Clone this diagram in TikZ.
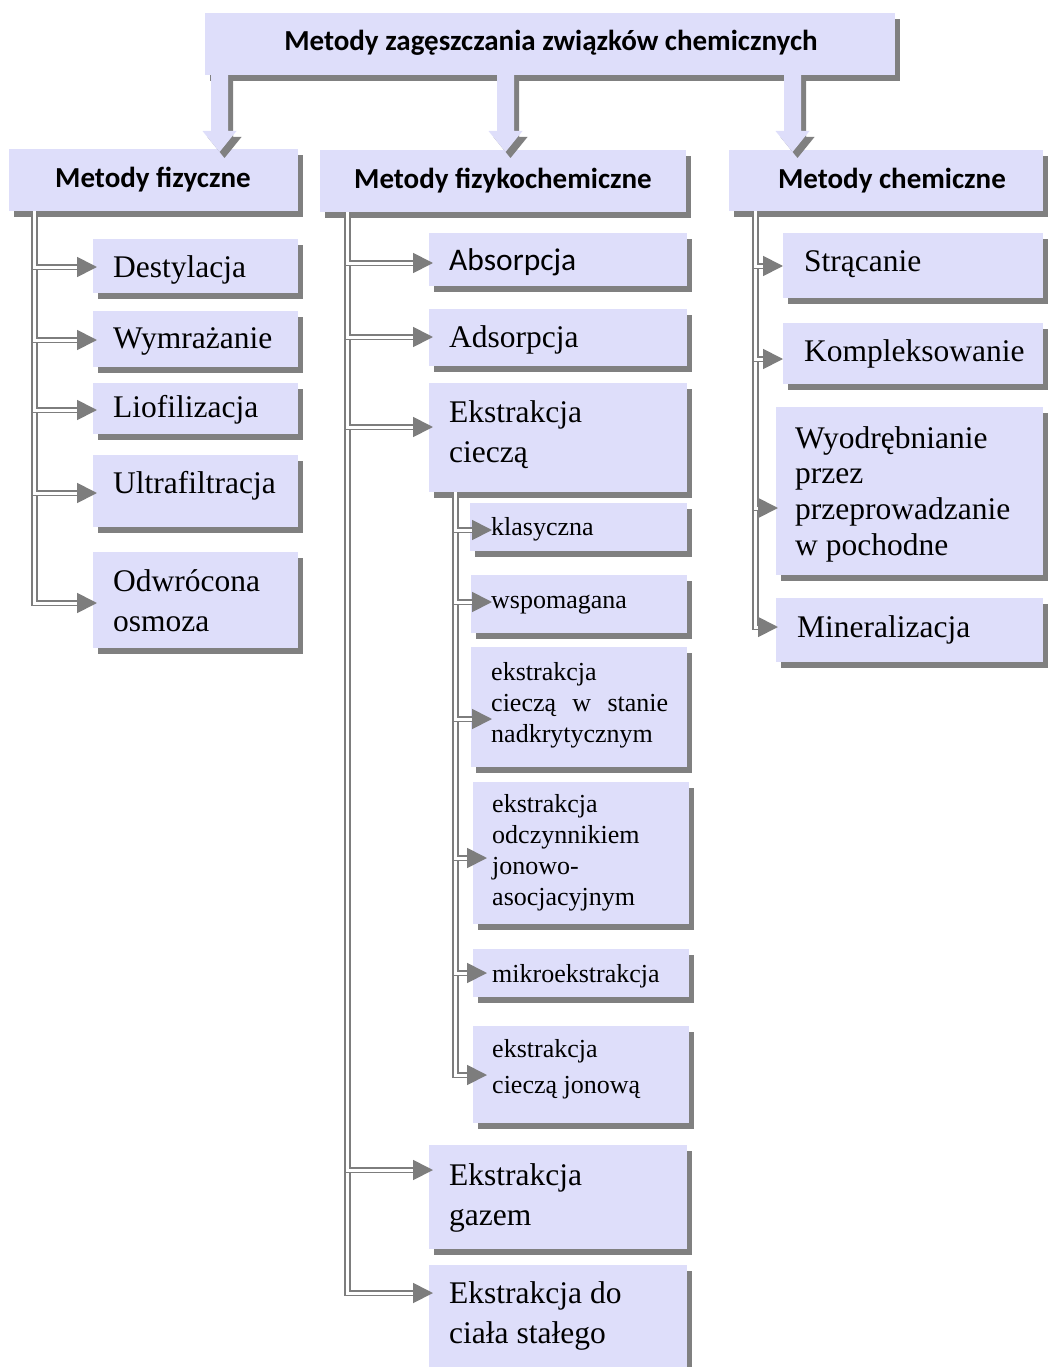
\documentclass[tikz,border=0pt]{standalone}
\usepackage{fontspec}
\setmainfont{Liberation Serif}
\newfontfamily\calibri{Carlito}
\usetikzlibrary{arrows.meta,shadows,calc,fit}
\definecolor{boxfill}{RGB}{222,222,250}
\definecolor{shgray}{RGB}{128,128,128}
\definecolor{lngray}{RGB}{125,125,125}
\newcommand\fbig{\fontsize{31.5}{40}\selectfont}
\newcommand\fsub{\fontsize{26}{31}\selectfont}
\newcommand\fhd{\calibri\bfseries\fontsize{29}{35}\selectfont}
\newcommand\fsans{\calibri\fontsize{31.5}{40}\selectfont}
\newcommand\mlines[1]{\vtop{\halign{##\hfil\cr#1\crcr}}}
\begin{document}
\begin{tikzpicture}[x=1pt,y=-1pt,
  boxnode/.style={fill=boxfill, draw=none, inner sep=0pt,
    drop shadow={shadow xshift=5pt, shadow yshift=-6pt, fill=shgray, opacity=1}},
  lbl/.style={inner sep=0pt, anchor=base west, text=black},
  hdlbl/.style={inner sep=0pt, anchor=base, font=\fhd},
  conn/.style={draw=lngray, line width=1.8pt, double=white, double distance=3pt,
    -{Triangle[length=20pt,width=20pt]}}]
\path[use as bounding box] (0,0) rectangle (1047,1367);

% top and headers
\node[boxnode, fit={(205,13) (895,75)}] (top) {};
\node[hdlbl] (top-t) at (551,51) {Metody zagęszczania związków chemicznych};
\node[boxnode, fit={(9,149) (298,211)}] (hfiz) {};
\node[hdlbl] (hfiz-t) at (153,188) {Metody fizyczne};
\node[boxnode, fit={(320,150) (686,212)}] (hfc) {};
\node[hdlbl] (hfc-t) at (503,189) {Metody fizykochemiczne};
\node[boxnode, fit={(729,150) (1043,211)}] (hch) {};
\node[hdlbl] (hch-t) at (892,189) {Metody chemiczne};

% block arrows
\coordinate (a1) at (219.5,75);
\coordinate (a2) at (505.5,75);
\coordinate (a3) at (792.5,75);
\foreach \c in {a1,a2,a3}{
  \fill[shgray] ($(\c)+(5,6)$) +(-8.5,0) -- +(8.5,0) -- +(8.5,56) -- +(17,56) -- +(0,77) -- +(-17,56) -- +(-8.5,56) -- cycle;
  \fill[boxfill] (\c) +(-8.5,0) -- +(8.5,0) -- +(8.5,56) -- +(17,56) -- +(0,77) -- +(-17,56) -- +(-8.5,56) -- cycle;
}

% left column
\node[boxnode, fit={(93,239) (298,293)}] (dest) {};
\node[lbl, font=\fbig] (dest-t) at (113,277) {Destylacja};
\coordinate (dest-a) at (97,267);
\node[boxnode, fit={(93,311) (298,367)}] (wymr) {};
\node[lbl, font=\fbig] (wymr-t) at (113,348) {Wymrażanie};
\coordinate (wymr-a) at (97,340);
\node[boxnode, fit={(93,383) (298,434)}] (liof) {};
\node[lbl, font=\fbig] (liof-t) at (113,417) {Liofilizacja};
\coordinate (liof-a) at (97,410);
\node[boxnode, fit={(93,455) (298,527)}] (ultra) {};
\node[lbl, font=\fbig] (ultra-t) at (113,493) {Ultrafiltracja};
\coordinate (ultra-a) at (97,493);
\node[boxnode, fit={(93,552) (298,648)}] (odwr) {};
\node[lbl, font=\fbig] (odwr-t) at (113,591) {\mlines{Odwrócona\cr osmoza}};
\coordinate (odwr-a) at (97,603);

% middle column
\node[boxnode, fit={(429,233) (687,286)}] (abs) {};
\node[lbl, font=\fsans] (abs-t) at (449,270) {Absorpcja};
\coordinate (abs-a) at (433,263);
\node[boxnode, fit={(429,309) (687,366)}] (ads) {};
\node[lbl, font=\fbig] (ads-t) at (449,347) {Adsorpcja};
\coordinate (ads-a) at (433,337);
\node[boxnode, fit={(429,383) (687,492)}] (ekc) {};
\node[lbl, font=\fbig] (ekc-t) at (449,422) {\mlines{Ekstrakcja\cr cieczą}};
\coordinate (ekc-a) at (433,427);

\node[boxnode, fit={(470,503) (687,551)}] (klas) {};
\node[lbl, font=\fsub] (klas-t) at (491,535) {klasyczna};
\coordinate (klas-a) at (492,530);
\node[boxnode, fit={(471,575) (687,633)}] (wsp) {};
\node[lbl, font=\fsub] (wsp-t) at (491,608) {wspomagana};
\coordinate (wsp-a) at (492,602);
\node[boxnode, fit={(471,647) (687,767)}] (nadk) {};
\node[lbl, font=\fsub] (nadk-t) at (491,680) {\mlines{ekstrakcja\cr \makebox[177pt][s]{cieczą w stanie}\cr nadkrytycznym}};
\coordinate (nadk-a) at (492,719);
\node[boxnode, fit={(473,782) (689,924)}] (odcz) {};
\node[lbl, font=\fsub] (odcz-t) at (492,812) {\mlines{ekstrakcja\cr odczynnikiem\cr jonowo-\cr asocjacyjnym}};
\coordinate (odcz-a) at (487,858);
\node[boxnode, fit={(473,949) (689,997)}] (mikro) {};
\node[lbl, font=\fsub] (mikro-t) at (492,982) {mikroekstrakcja};
\coordinate (mikro-a) at (487,973);
\node[boxnode, fit={(473,1026) (689,1123)}] (jon) {};
\node[lbl, font=\fontsize{26}{36}\selectfont] (jon-t) at (492,1057) {\mlines{ekstrakcja\cr cieczą jonową}};
\coordinate (jon-a) at (487,1075);

\node[boxnode, fit={(429,1145) (687,1249)}] (gaz) {};
\node[lbl, font=\fbig] (gaz-t) at (449,1185) {\mlines{Ekstrakcja\cr gazem}};
\coordinate (gaz-a) at (433,1170);
\node[boxnode, fit={(429,1265) (687,1375)}] (stal) {};
\node[lbl, font=\fbig] (stal-t) at (449,1303) {\mlines{Ekstrakcja do\cr ciała stałego}};
\coordinate (stal-a) at (433,1293);

% right column
\node[boxnode, fit={(783,233) (1043,298)}] (str) {};
\node[lbl, font=\fbig] (str-t) at (804,271) {Strącanie};
\coordinate (str-a) at (783,266);
\node[boxnode, fit={(783,323) (1043,384)}] (kom) {};
\node[lbl, font=\fbig] (kom-t) at (804,361) {Kompleksowanie};
\coordinate (kom-a) at (783,359);
\node[boxnode, fit={(776,407) (1043,575)}] (wyo) {};
\node[lbl, font=\fontsize{31.5}{35.7}\selectfont] (wyo-t) at (795,448) {\mlines{Wyodrębnianie\cr przez\cr przeprowadzanie\cr w pochodne}};
\coordinate (wyo-a) at (778,508);
\node[boxnode, fit={(776,598) (1043,662)}] (min) {};
\node[lbl, font=\fbig] (min-t) at (797,637) {Mineralizacja};
\coordinate (min-a) at (778,627);

% connectors
\foreach \n in {odwr,ultra,liof,wymr,dest}
  \draw[conn] ($(hfiz.south west)+(25.5,0)$) |- (\n-a);
\foreach \n in {stal,gaz,ekc,ads,abs}
  \draw[conn] ($(hfc.south west)+(27.5,0)$) |- (\n-a);
\foreach \n in {jon,mikro,odcz,nadk,wsp,klas}
  \draw[conn] ($(ekc.south west)+(26.5,0)$) |- (\n-a);
\foreach \n in {min,wyo,kom,str}
  \draw[conn] ($(hch.south west)+(26.5,0)$) |- (\n-a);
\end{tikzpicture}
\end{document}
